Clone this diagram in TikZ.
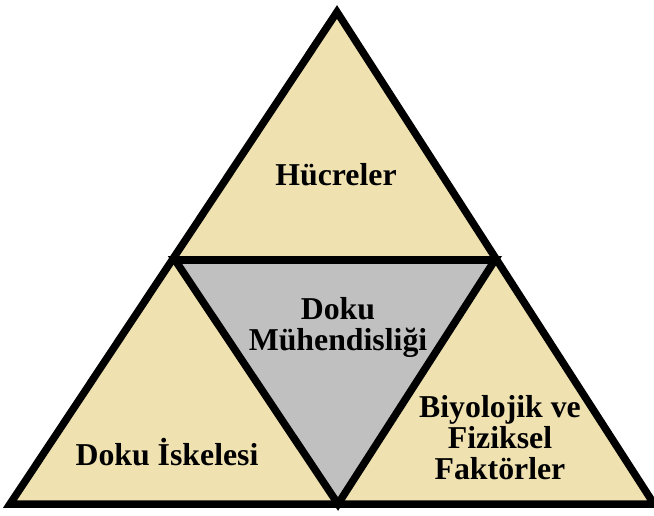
\documentclass[tikz,border=0pt]{standalone}
\usepackage{fontspec}
\setmainfont{Liberation Serif}
\usepackage{xcolor}
\usetikzlibrary{positioning}
\definecolor{sand}{RGB}{239,226,176}
\definecolor{core}{RGB}{192,192,192}

\begin{document}
\begin{tikzpicture}[
    x=1pt, y=-1pt,
    edge/.style = {draw=black, line width=7.5pt, line join=miter},
    label/.style = {align=center, inner sep=0pt, font=\fontsize{31.8}{31}\selectfont\bfseries}
]
\useasboundingbox (0,0) rectangle (654,516);

% Corners
\coordinate (top) at (337,12);
\coordinate (left) at (10,504);
\coordinate (right) at (654,504);
\coordinate (midl) at (175,260);
\coordinate (midr) at (495,260);
\coordinate (midb) at (338,504);

% Areas
\fill[sand] (top) -- (left) -- (right) -- cycle;
\fill[core] (midl) -- (midr) -- (midb) -- cycle;

% Outlines
\draw[edge] (top) -- (left) -- (right) -- cycle;
\draw[edge] (midl) -- (midr) -- (midb) -- cycle;

% Labels
\node[label] (cells) at (336,175) {Hücreler};
\node[label] (tissue) at (338,327) {Doku\\Mühendisliği};
\node[label] (scaffold) at (167,452) {Doku İskelesi};
\node[label] (factors) at (500,438) {Biyolojik ve\\Fiziksel\\Faktörler};

\end{tikzpicture}
\end{document}
